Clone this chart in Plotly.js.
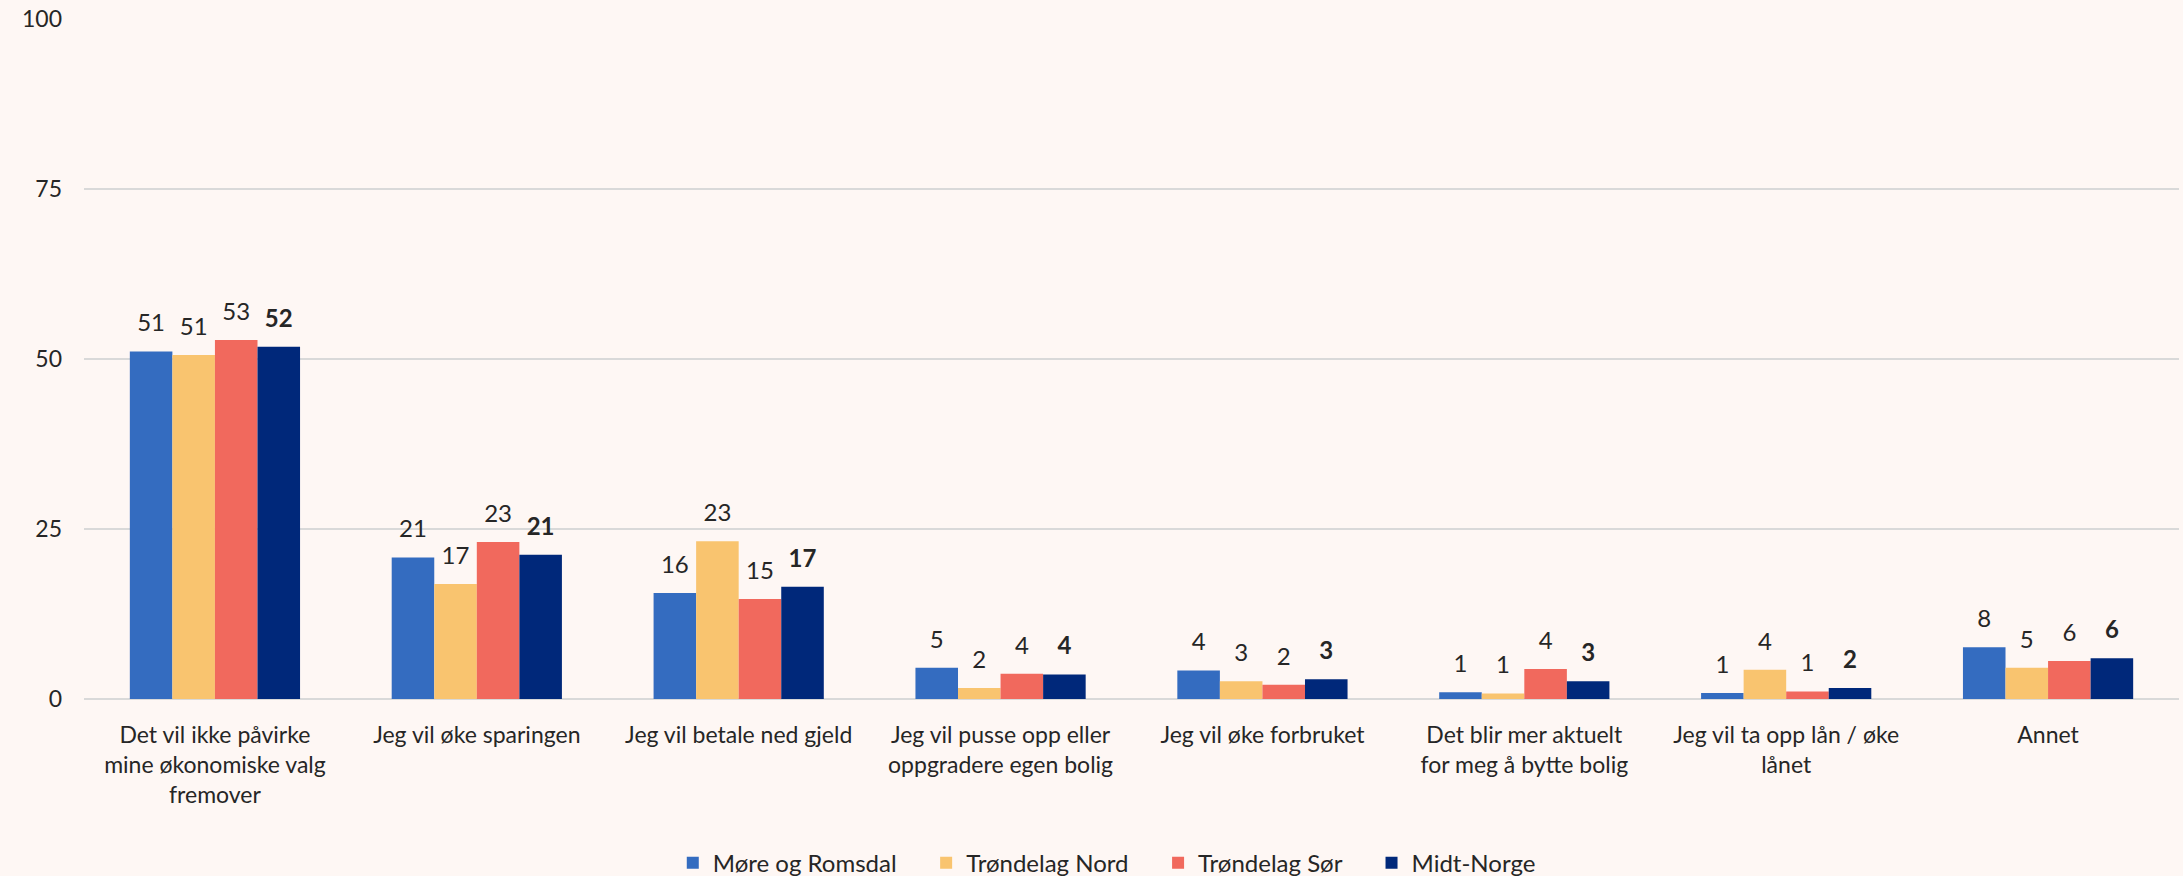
<!DOCTYPE html>
<html>
<head>
<meta charset="utf-8">
<script src="https://cdn.plot.ly/plotly-3.0.1.min.js"></script>
<style>
  html, body { margin: 0; padding: 0; background: #FEF7F4; }
  #chart { width: 2183px; height: 876px; }
</style>
</head>
<body>
<div id="chart"></div>
<script>
const categories = [
  "Det vil ikke påvirke<br>mine økonomiske valg<br>fremover",
  "Jeg vil øke sparingen",
  "Jeg vil betale ned gjeld",
  "Jeg vil pusse opp eller<br>oppgradere egen bolig",
  "Jeg vil øke forbruket",
  "Det blir mer aktuelt<br>for meg å bytte bolig",
  "Jeg vil ta opp lån / øke<br>lånet",
  "Annet"
];
const seriesNames = ["Møre og Romsdal", "Trøndelag Nord", "Trøndelag Sør", "Midt-Norge"];
const moreRomsdal   = [51.1, 20.8, 15.6, 4.6, 4.2, 1.0, 0.9, 7.6];
const trondelagNord = [50.6, 16.9, 23.2, 1.6, 2.6, 0.8, 4.3, 4.6];
const trondelagSor  = [52.8, 23.1, 14.7, 3.7, 2.1, 4.4, 1.1, 5.6];
const midtNorge     = [51.8, 21.2, 16.5, 3.6, 2.9, 2.6, 1.6, 6.0];
const yTicks = [0, 25, 50, 75, 100];

const colors = ["#346CC0", "#F9C46F", "#F1695D", "#00287A"];
const values = [moreRomsdal, trondelagNord, trondelagSor, midtNorge];
const FONT = "Lato, sans-serif";
const TXT = "#262626";
const NBSP = "\u00A0";

const barTraces = values.map((v, i) => ({
  type: "bar",
  name: i < 3 ? seriesNames[i] + NBSP.repeat(4) : seriesNames[i],
  x: categories,
  y: v,
  marker: { color: colors[i] },
  hoverinfo: "skip"
}));

// data labels: grouped scatter text placed above each bar
const labelTraces = values.map((v, i) => ({
  type: "scatter",
  mode: "markers+text",
  orientation: "v",
  showlegend: false,
  x: categories,
  y: v,
  marker: { size: 21, opacity: 0, color: colors[i] },
  texttemplate: "%{y:.0f}",
  textposition: "top center",
  cliponaxis: false,
  textfont: { family: FONT, size: 24, color: TXT, weight: i === 3 ? "bold" : "normal" },
  hoverinfo: "skip"
}));

const layout = {
  width: 2183,
  height: 876,
  paper_bgcolor: "#FEF7F4",
  plot_bgcolor: "#FEF7F4",
  margin: { l: 84, r: 4, t: 19, b: 177 },
  font: { family: FONT, size: 24, color: TXT },
  barmode: "group",
  bargap: 0.35,
  bargroupgap: 0,
  scattermode: "group",
  scattergap: 0.35,
  showlegend: true,
  legend: {
    orientation: "h",
    xref: "container",
    yref: "container",
    x: 0.507,
    xanchor: "center",
    y: 0.0148,
    yanchor: "middle",
    font: { family: FONT, size: 24, color: TXT },
    itemwidth: 30,
    traceorder: "normal"
  },
  xaxis: {
    type: "category",
    showgrid: false,
    showline: false,
    ticks: "",
    ticklabelstandoff: 20,
    tickfont: { family: FONT, size: 23, color: TXT },
    fixedrange: true
  },
  yaxis: {
    range: [0, 100],
    tickvals: yTicks,
    showgrid: true,
    gridcolor: "#D9D9D9",
    gridwidth: 2,
    zeroline: true,
    zerolinecolor: "#D9D9D9",
    zerolinewidth: 2,
    showline: false,
    ticks: "",
    ticklabelstandoff: 21,
    tickfont: { family: FONT, size: 23, color: TXT },
    fixedrange: true
  }
};

Plotly.newPlot("chart", barTraces.concat(labelTraces), layout, { displayModeBar: false, staticPlot: true });
</script>
</body>
</html>
